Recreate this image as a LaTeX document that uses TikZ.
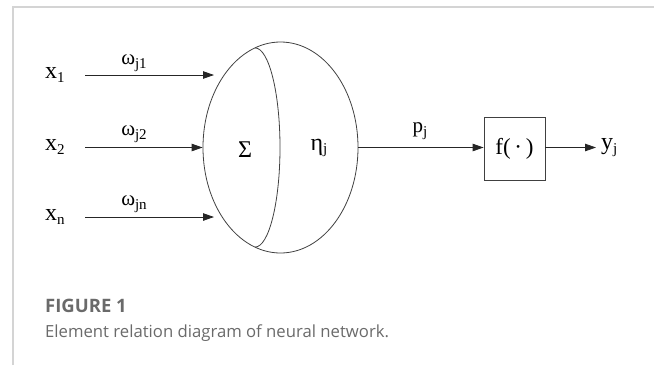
\documentclass[tikz,border=0pt]{standalone}
\usepackage{fontspec}
\setmainfont{Liberation Serif}
\newfontfamily\capfont{Open Sans}
\usetikzlibrary{arrows.meta,shapes.geometric}
\newcommand{\lsub}[1]{\raisebox{-0.35ex}{\fontsize{15}{15}\selectfont #1}}
\definecolor{frame}{HTML}{D4D4D4}
\definecolor{captxt}{HTML}{6A6A6A}
\tikzset{
  lbl/.style={inner sep=0pt, font=\fontsize{24}{24}\selectfont},
  wlbl/.style={inner sep=0pt, font=\fontsize{21}{21}\selectfont},
  arr/.style={line width=0.8pt, draw=black!85, -{Triangle[length=11pt,width=7.5pt]}},
  ln/.style={line width=0.8pt, draw=black!75},
}
\begin{document}
\begin{tikzpicture}[x=1pt,y=-1pt]
\useasboundingbox (0,0) rectangle (654,365);
% frame
\draw[frame, line width=1.5pt] (13,365) -- (13,7) -- (654,7);
% neuron
\node[ellipse, ln, minimum width=155pt, minimum height=211pt, inner sep=0pt] (neuron) at (280.5,147.5) {};
\draw[ln] (255,47.9) arc[start angle=-90, end angle=90, x radius=25, y radius=99.6];
\node[lbl] (sigma) at (245,150) {Σ};
\node[lbl] (eta) at (319,148) {η\lsub{j}};
% inputs
\node[lbl, anchor=west] (x1) at (45,75) {x\lsub{1}};
\node[lbl, anchor=west] (x2) at (45,147) {x\lsub{2}};
\node[lbl, anchor=west] (xn) at (45,217) {x\lsub{n}};
\coordinate (s1) at (85,75); \coordinate (t1) at (214,75);
\coordinate (s2) at (85,147.5); \coordinate (t2) at (neuron.west);
\coordinate (sn) at (85,217); \coordinate (tn) at (214,217);
\draw[arr] (s1) -- (t1);
\draw[arr] (s2) -- (t2);
\draw[arr] (sn) -- (tn);
\node[wlbl] (w1) at (134,63) {ω\lsub{j1}};
\node[wlbl] (w2) at (134,134) {ω\lsub{j2}};
\node[wlbl] (wn) at (134,204) {ω\lsub{jn}};
% activation
\node[draw, ln, minimum width=61pt, minimum height=63pt, inner sep=0pt] (f) at (514.5,149) {\fontsize{23}{23}\selectfont f(\,·\,)};
\draw[arr] (neuron.east) -- (neuron.east -| f.west);
\node[wlbl] (p) at (420,131) {p\lsub{j}};
\node[lbl, anchor=west] (y) at (601,147.5) {y\lsub{j}};
\coordinate (yt) at (596,147.5);
\draw[arr] (f.east |- neuron.east) -- (yt);
% caption
\node[anchor=base west, inner sep=0pt, text=captxt, font=\capfont\bfseries\fontsize{18.5}{18.5}\selectfont] (figlabel) at (45,312) {FIGURE 1};
\node[anchor=base west, inner sep=0pt, text=captxt, font=\capfont\fontsize{16.7}{16.7}\selectfont] (caption) at (45,337) {Element relation diagram of neural network.};
\end{tikzpicture}
\end{document}
